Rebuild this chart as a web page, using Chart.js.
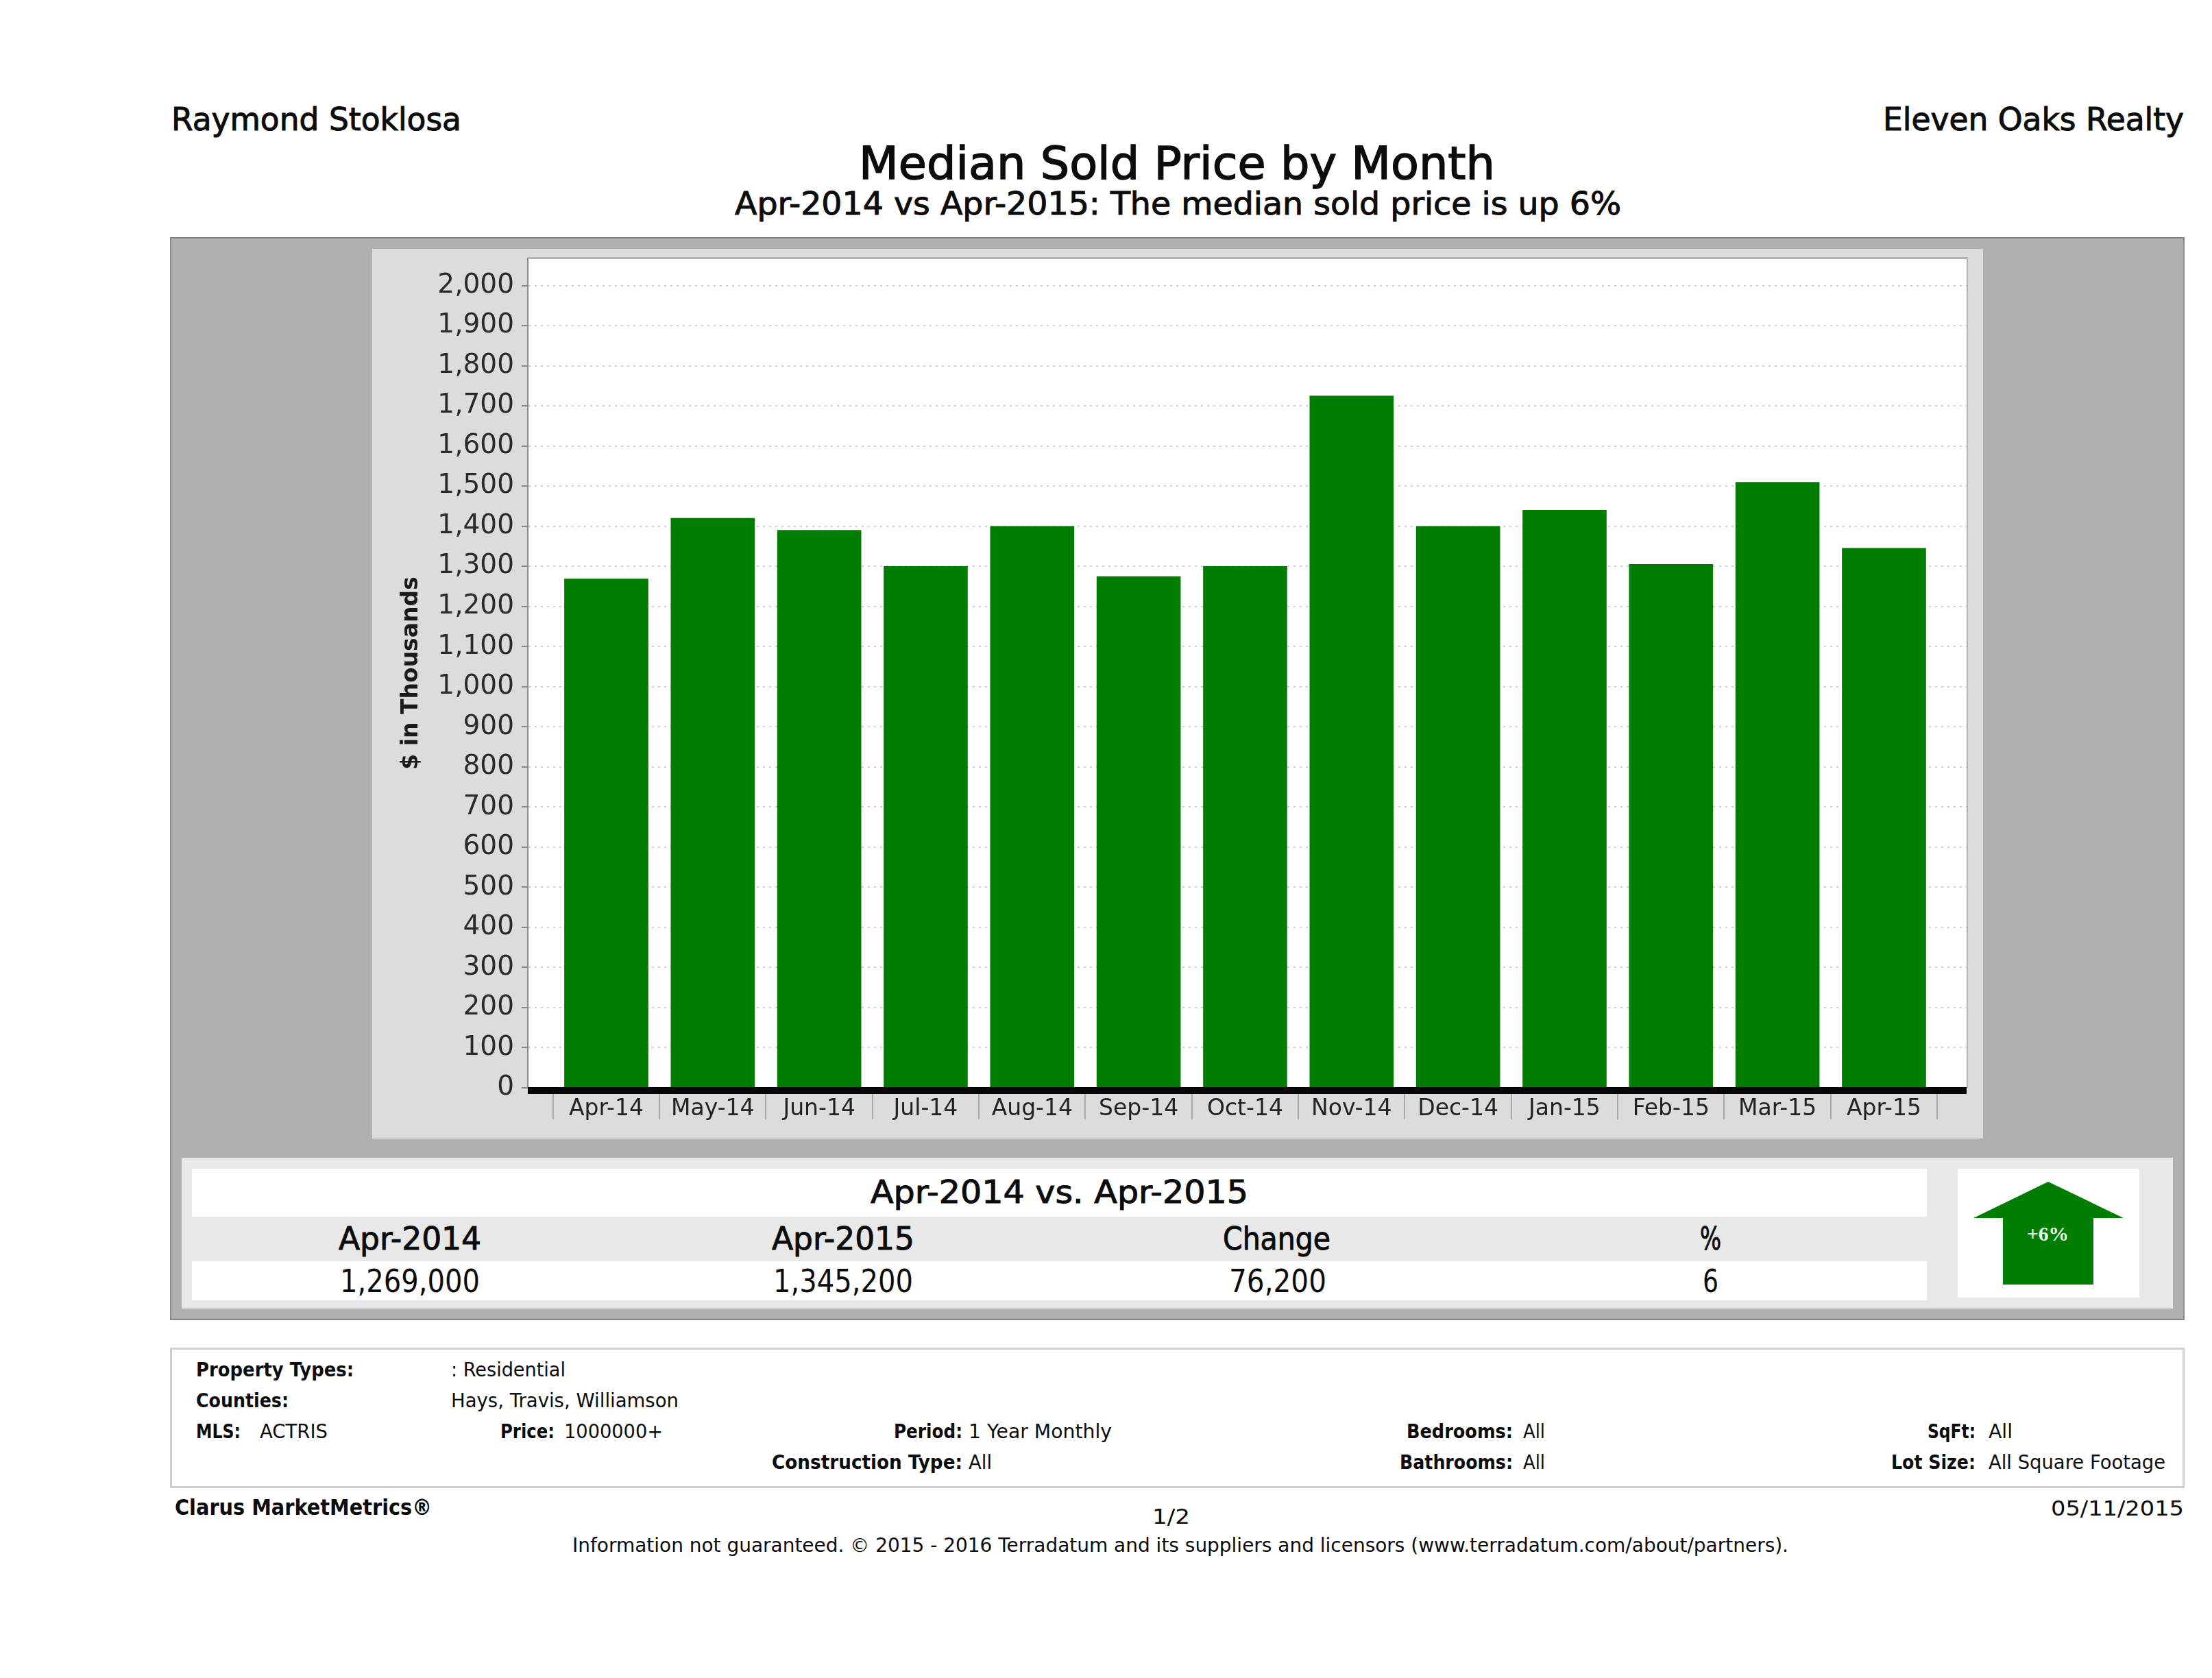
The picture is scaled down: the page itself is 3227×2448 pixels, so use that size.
<!DOCTYPE html>
<html>
<head>
<meta charset="utf-8">
<style>
html,body{margin:0;padding:0;background:#fff;width:3227px;height:2448px;overflow:hidden}
.b{position:absolute;box-sizing:border-box}
.t{position:absolute;white-space:nowrap;line-height:1;transform-origin:0 0;color:#0c0c0c}
</style>
<script src="https://cdn.jsdelivr.net/npm/chart.js@4"></script>
</head>
<body>
<div class="b" style="left:248px;top:346px;width:2939px;height:1580px;background:#b0b0b0;border:2px solid #868686;border-right-color:#8c8c8c"></div>
<div class="b" style="left:265px;top:1689px;width:2905px;height:220px;background:#e8e8e8"></div>
<div class="b" style="left:280px;top:1705px;width:2531px;height:70px;background:#fff"></div>
<div class="b" style="left:280px;top:1840px;width:2531px;height:57px;background:#fff"></div>
<div class="b" style="left:2856px;top:1705px;width:265px;height:188px;background:#fff"></div>
<svg class="b" style="left:2856px;top:1705px" width="265" height="188" viewBox="2856 1705 265 188"><polygon points="2988,1724 3098,1777 3054,1777 3054,1874 2922,1874 2922,1777 2879,1777" fill="#017d01"/></svg>
<div class="b" style="left:248px;top:1966px;width:2939px;height:205px;border:3px solid #cfcfcf;background:#fff"></div>
<div class="b" style="left:543px;top:363px;width:2350px;height:1298px;background:#dcdcdc"></div>
<canvas id="c" width="2350" height="1298" style="position:absolute;left:543px;top:363px"></canvas>
<script>
const categories = ['Apr-14','May-14','Jun-14','Jul-14','Aug-14','Sep-14','Oct-14','Nov-14','Dec-14','Jan-15','Feb-15','Mar-15','Apr-15'];
const medianSold = [1269,1420,1390,1300,1400,1275,1300,1725,1400,1440,1305,1510,1345.2];
const yAxisTitle = '$ in Thousands';

const sans = '"DejaVu Sans"';
const plotFrame = {
  id:'plotFrame',
  beforeDraw(c){
    const a=c.chartArea, g=c.ctx;
    g.save();
    g.fillStyle='#fff';
    g.fillRect(a.left,a.top,a.right-a.left,a.bottom-a.top);
    g.restore();
  },
  afterDatasetsDraw(c){
    const a=c.chartArea, g=c.ctx, y0=c.scales.y.getPixelForValue(0);
    g.save();
    g.fillStyle='#b4b4b4';
    g.fillRect(a.left,a.top-2,a.right-a.left+2,3);
    g.fillRect(a.right,a.top-2,2,a.bottom-a.top+2);
    g.fillStyle='#050505';
    g.fillRect(a.left,y0-1,a.right-a.left,10);
    g.restore();
  }
};
new Chart(document.getElementById('c'),{
  type:'bar',
  data:{datasets:[{
    data:medianSold.map((v,i)=>({x:i,y:v})),
    backgroundColor:'#017d01',
    barThickness:122
  }]},
  plugins:[plotFrame],
  options:{
    responsive:false,animation:false,devicePixelRatio:1,
    layout:{padding:{left:38,right:24,top:14,bottom:0}},
    plugins:{legend:{display:false},title:{display:false},tooltip:{enabled:false}},
    scales:{
      x:{
        type:'linear',min:-0.737,max:12.776,offset:false,
        afterBuildTicks(s){
          const t=[];
          categories.forEach((_,i)=>{t.push({value:i-0.5});t.push({value:i});});
          t.push({value:categories.length-0.5});
          s.ticks=t;
        },
        afterFit(s){s.height=74;s.paddingLeft=0;s.paddingRight=0;},
        border:{display:false},
        grid:{offset:false,drawOnChartArea:false,tickLength:46,lineWidth:2,
          tickColor:ctx=>(ctx.tick&&Number.isInteger(ctx.tick.value))?'rgba(0,0,0,0)':'#a8a8a8'},
        ticks:{autoSkip:false,maxRotation:0,minRotation:0,padding:-34,color:'#222',
          font:{family:sans,size:33},
          callback:v=>Number.isInteger(v)?categories[v]:''}
      },
      y:{
        min:0,max:2068,
        afterBuildTicks(s){
          const t=[];
          for(let v=0;v<=2000;v+=100)t.push({value:v});
          s.ticks=t;
        },
        afterFit(s){s.width=189;s.paddingTop=0;s.paddingBottom=0;},
        border:{color:'#888',width:2,dash:[3,6]},
        grid:{color:'#d2d2d2',lineWidth:2,tickLength:9,tickColor:'#888'},
        ticks:{padding:11,color:'#2a2a2a',font:{family:sans,size:39},
          callback:v=>v.toLocaleString('en-US')},
        title:{display:true,text:yAxisTitle,color:'#1a1a1a',padding:0,
          font:{family:sans,size:33,weight:'bold'}}
      }
    }
  }
});

const mctx=document.createElement('canvas').getContext('2d');
function T(str,x0,x1,base,size,weight,extra){
  const el=document.createElement('div');
  el.className='t';el.textContent=str;
  const fam=(extra&&extra.fam)||sans;
  const semi=weight==='semi';
  const w=semi?'normal':weight;
  el.style.fontFamily=fam;el.style.fontSize=size+'px';el.style.fontWeight=w;
  if(semi)el.style.webkitTextStroke=(size*0.022)+'px currentColor';
  if(extra&&extra.color)el.style.color=extra.color;
  mctx.font=w+' '+size+'px '+fam;
  const m=mctx.measureText(str);
  const a=m.fontBoundingBoxAscent,d=m.fontBoundingBoxDescent;
  el.style.left=x0+'px';
  el.style.top=(base-((size-(a+d))/2+a))+'px';
  el.style.transform='scaleX('+((x1-x0)/m.width)+')';
  document.body.appendChild(el);
}
const H=46;
T('Raymond Stoklosa',250,673,190,H,'semi');
T('Eleven Oaks Realty',2747,3186,190,H,'semi');
T('Median Sold Price by Month',1253,2181,261,66,'semi');
T('Apr-2014 vs Apr-2015: The median sold price is up 6%',1072,2365,313,H,'semi');
T('Apr-2014 vs. Apr-2015',1270,1821,1755,H,'semi');
T('Apr-2014',494,702,1823,H,'semi');
T('Apr-2015',1126,1334,1823,H,'semi');
T('Change',1784,1941,1823,H,'semi');
T('%',2480,2511,1823,H,'semi');
T('1,269,000',496,700,1885,H,'normal');
T('1,345,200',1128,1332,1885,H,'normal');
T('76,200',1793,1935,1885,H,'normal');
T('6',2484,2507,1885,H,'normal');
T('+6%',2957,3018,1810,30,'bold',{fam:'"Liberation Serif"',color:'#eefbee'});
const S=29;
T('Property Types:',286,516,2008,S,'bold');
T(': Residential',658,825,2008,S,'normal');
T('Counties:',286,421,2053,S,'bold');
T('Hays, Travis, Williamson',658,990,2053,S,'normal');
T('MLS:',286,351,2098,S,'bold');
T('ACTRIS',379,478,2098,S,'normal');
T('Price:',730,809,2098,S,'bold');
T('1000000+',823,967,2098,S,'normal');
T('Period:',1304,1404,2098,S,'bold');
T('1 Year Monthly',1413,1622,2098,S,'normal');
T('Construction Type:',1126,1404,2143,S,'bold');
T('All',1413,1447,2143,S,'normal');
T('Bedrooms:',2052,2207,2098,S,'bold');
T('All',2222,2254,2098,S,'normal');
T('Bathrooms:',2042,2207,2143,S,'bold');
T('All',2222,2254,2143,S,'normal');
T('SqFt:',2812,2882,2098,S,'bold');
T('All',2901,2936,2098,S,'normal');
T('Lot Size:',2759,2882,2143,S,'bold');
T('All Square Footage',2901,3159,2143,S,'normal');
T('Clarus MarketMetrics®',255,630,2210,32,'bold');
T('05/11/2015',2992,3186,2211,31,'normal');
T('1/2',1681,1736,2223,30,'normal');
T('Information not guaranteed. © 2015 - 2016 Terradatum and its suppliers and licensors (www.terradatum.com/about/partners).',835,2609,2264,28,'normal');
</script>
</body>
</html>
